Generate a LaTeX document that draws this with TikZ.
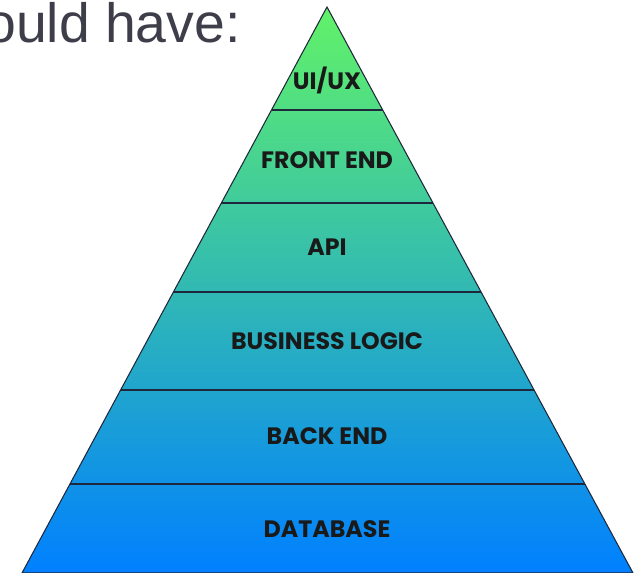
\documentclass[tikz,border=0pt]{standalone}
\usepackage{fontspec}
\setmainfont{Liberation Sans}
\newfontfamily\layerfont{Poppins}
\usetikzlibrary{calc}
\definecolor{pyrtop}{RGB}{98,242,104}
\definecolor{pyrbot}{RGB}{0,128,255}
\definecolor{edgecol}{RGB}{30,40,60}
\definecolor{introcol}{RGB}{62,62,74}
\tikzset{
  layer/.style = {font=\layerfont\bfseries\fontsize{13.5}{13.5}\selectfont,
    text=black!90, inner sep=0pt},% text of one layer
  sep/.style = {draw=edgecol, line width=0.6pt},% line between two layers
  intro/.style = {font=\fontsize{31.5}{31.5}\selectfont, text=introcol,
    inner sep=0pt}% cut line of text above
}

\begin{document}
\begin{tikzpicture}[x=0.02cm,y=-0.02cm]
\useasboundingbox (0,0) rectangle (635,573);
\clip (0,0) rectangle (635,573);
\node[intro, anchor=base east] (have) at (241,43) {ould have:};
\coordinate (top) at (327,7);
\coordinate (bl) at (22,573);
\coordinate (br) at (633,573);
\shade[top color=pyrtop, bottom color=pyrbot] (top) -- (bl) -- (br) -- cycle;
\draw[sep] (top) -- (bl) -- (br) -- cycle;
\foreach \y [count=\i] in {110,203,292,390,484} {
  \coordinate (l\i) at ($(top)!{(\y-7)/566}!(bl)$);
  \coordinate (r\i) at ($(top)!{(\y-7)/566}!(br)$);
  \draw[sep] (l\i) -- (r\i);
}
\node[layer] (uiux) at (327,80) {UI/UX};
\node[layer] (front) at (327,160) {FRONT END};
\node[layer] (api) at (327,247) {API};
\node[layer] (logic) at (327,341) {BUSINESS LOGIC};
\node[layer] (back) at (327,436) {BACK END};
\node[layer] (db) at (327,529) {DATABASE};
\end{tikzpicture}
\end{document}
